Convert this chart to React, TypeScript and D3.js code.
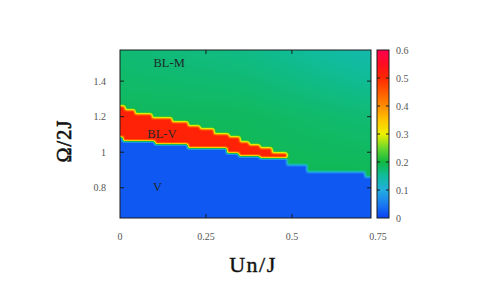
import React, { useEffect, useState } from "react";
import * as d3 from "d3";

// axis ticks
const xTicks = [0, 0.25, 0.5, 0.75];
const yTicks = [0.8, 1, 1.2, 1.4];
const cbTicks = [0, 0.1, 0.2, 0.3, 0.4, 0.5, 0.6];

// palette (value -> colour)
const paletteVals = [0, 0.05, 0.1, 0.15, 0.2, 0.25, 0.3, 0.35, 0.4, 0.45, 0.5, 0.55, 0.6];
const paletteCols = [
  "#0a40f4", "#1a7cf0", "#22aee0", "#10bc9c", "#10b840", "#6cd82c",
  "#eef000", "#ffc400", "#ff8c00", "#ff5a00", "#ff2800", "#ff0c22", "#ff004e",
];

// top of the V phase (step after x)
const blueEdgeX = [0, 0.01, 0.102, 0.199, 0.311, 0.345, 0.408, 0.486, 0.544, 0.714];
const blueEdgeY = [1.087, 1.064, 1.046, 1.021, 0.993, 0.978, 0.965, 0.928, 0.89, 0.862];

// top of the BL-V phase (step after x), ends at redEndX
const redEdgeX = [0, 0.015, 0.044, 0.092, 0.151, 0.199, 0.233, 0.272, 0.316, 0.35, 0.375, 0.408, 0.442];
const redEdgeY = [1.259, 1.237, 1.214, 1.19, 1.171, 1.147, 1.128, 1.102, 1.083, 1.059, 1.04, 1.021, 0.993];
const redEndX = 0.486;

const blueVal = 0.02;
const redVal = 0.51;

// BL-M values sampled on a coarse grid
const greenX = [0, 0.365, 0.73];
const greenY = [0.85, 1.2, 1.575];
const greenVals = [
  [0.19, 0.19, 0.19],
  [0.185, 0.184, 0.172],
  [0.172, 0.162, 0.138],
];

const phaseLabels = [
  { text: "BL-M", x: 0.143, y: 1.479 },
  { text: "BL-V", x: 0.122, y: 1.079 },
  { text: "V", x: 0.109, y: 0.784 },
];

const W = 490;
const H = 283;
const plot = { left: 120, right: 371, top: 50, bottom: 218 };
const cbar = { left: 377, right: 389 };

const xScale = d3.scaleLinear().domain([0, 0.73]).range([plot.left, plot.right]);
const yScale = d3.scaleLinear().domain([0.63, 1.575]).range([plot.bottom, plot.top]);
const cScale = d3.scaleLinear().domain([0, 0.6]).range([plot.bottom, plot.top]);
const colour = d3
  .scaleLinear<string>()
  .domain(paletteVals)
  .range(paletteCols)
  .interpolate(d3.interpolateRgb)
  .clamp(true);

const stepAt = (xs: number[], ys: number[], x: number) =>
  ys[Math.max(0, d3.bisectRight(xs, x) - 1)];

const App = () => {
  const [href, setHref] = useState("");

  useEffect(() => {
    const pw = plot.right - plot.left;
    const ph = plot.bottom - plot.top;
    const rowScales = greenVals.map((row) => d3.scaleLinear().domain(greenX).range(row));

    // value field
    let vals = new Float32Array(pw * ph);
    for (let i = 0; i < pw; i++) {
      const x = xScale.invert(plot.left + i + 0.5);
      const yb = stepAt(blueEdgeX, blueEdgeY, x);
      const yr = x < redEndX ? stepAt(redEdgeX, redEdgeY, x) : -Infinity;
      const rows = rowScales.map((s) => s(x));
      const col = d3.scaleLinear().domain(greenY).range(rows).clamp(true);
      for (let j = 0; j < ph; j++) {
        const y = yScale.invert(plot.top + j + 0.5);
        let v;
        if (y < yb) v = blueVal;
        else if (y < yr) v = redVal;
        else v = col(y);
        vals[j * pw + i] = v;
      }
    }

    // soften the cell edges a little, like pm3d interpolation
    for (let pass = 0; pass < 2; pass++) {
      const out = new Float32Array(pw * ph);
      for (let j = 0; j < ph; j++) {
        for (let i = 0; i < pw; i++) {
          let s = 0;
          let n = 0;
          for (let dj = -1; dj <= 1; dj++) {
            for (let di = -1; di <= 1; di++) {
              const ii = i + di;
              const jj = j + dj;
              if (ii < 0 || jj < 0 || ii >= pw || jj >= ph) continue;
              s += vals[jj * pw + ii];
              n++;
            }
          }
          out[j * pw + i] = s / n;
        }
      }
      vals = out;
    }

    const canvas = document.createElement("canvas");
    canvas.width = pw;
    canvas.height = ph;
    const ctx = canvas.getContext("2d")!;
    const img = ctx.createImageData(pw, ph);
    for (let k = 0; k < pw * ph; k++) {
      const c = d3.rgb(colour(vals[k]));
      img.data[k * 4] = c.r;
      img.data[k * 4 + 1] = c.g;
      img.data[k * 4 + 2] = c.b;
      img.data[k * 4 + 3] = 255;
    }
    ctx.putImageData(img, 0, 0);
    setHref(canvas.toDataURL());
  }, []);

  const tickFont = { fontFamily: "'Liberation Serif', serif", fontSize: 10, fill: "#555" };
  const tickLen = 4;

  return (
    <svg
      width={W}
      height={H}
      style={{ position: "absolute", left: 0, top: 0, background: "#fff" }}
    >
      <defs>
        <linearGradient id="cb" x1="0" y1="1" x2="0" y2="0">
          {paletteVals.map((v, i) => (
            <stop key={i} offset={v / 0.6} stopColor={paletteCols[i]} />
          ))}
        </linearGradient>
      </defs>

      {href && (
        <image
          href={href}
          x={plot.left}
          y={plot.top}
          width={plot.right - plot.left}
          height={plot.bottom - plot.top}
          preserveAspectRatio="none"
        />
      )}

      {phaseLabels.map((d) => (
        <text
          key={d.text}
          x={xScale(d.x)}
          y={yScale(d.y)}
          textAnchor="middle"
          fontFamily="'Liberation Serif', serif"
          fontSize={12.5}
          fill="#1e2a28"
        >
          {d.text}
        </text>
      ))}

      {/* plot frame and ticks */}
      <rect
        x={plot.left}
        y={plot.top}
        width={plot.right - plot.left}
        height={plot.bottom - plot.top}
        fill="none"
        stroke="#1a1a1a"
        strokeWidth={1}
      />
      {yTicks.map((t) => (
        <g key={t}>
          <line x1={plot.left} x2={plot.left + tickLen} y1={yScale(t)} y2={yScale(t)} stroke="#1a1a1a" />
          <line x1={plot.right} x2={plot.right - tickLen} y1={yScale(t)} y2={yScale(t)} stroke="#1a1a1a" />
          <text x={106} y={yScale(t)} dy="0.35em" textAnchor="end" {...tickFont}>
            {d3.format("~g")(t)}
          </text>
        </g>
      ))}
      {xTicks.map((t) => (
        <g key={t}>
          {xScale(t) > plot.left + 1 && xScale(t) < plot.right - 1 && (
            <>
              <line x1={xScale(t)} x2={xScale(t)} y1={plot.bottom} y2={plot.bottom - tickLen} stroke="#1a1a1a" />
              <line x1={xScale(t)} x2={xScale(t)} y1={plot.top} y2={plot.top + tickLen} stroke="#1a1a1a" />
            </>
          )}
          <text x={xScale(t)} y={240} textAnchor="middle" {...tickFont}>
            {d3.format("~g")(t)}
          </text>
        </g>
      ))}

      {/* colour box */}
      <rect
        x={cbar.left}
        y={plot.top}
        width={cbar.right - cbar.left}
        height={plot.bottom - plot.top}
        fill="url(#cb)"
        stroke="#1a1a1a"
        strokeWidth={1}
      />
      {cbTicks.map((t) => (
        <g key={t}>
          {t > 0 && t < 0.6 && (
            <>
              <line x1={cbar.left} x2={cbar.left + 3} y1={cScale(t)} y2={cScale(t)} stroke="#1a1a1a" />
              <line x1={cbar.right} x2={cbar.right - 3} y1={cScale(t)} y2={cScale(t)} stroke="#1a1a1a" />
            </>
          )}
          <text x={396} y={cScale(t)} dy="0.35em" textAnchor="start" {...tickFont}>
            {d3.format("~g")(t)}
          </text>
        </g>
      ))}

      {/* axis titles */}
      <text
        x={253}
        y={272}
        textAnchor="middle"
        fontFamily="'Liberation Serif', serif"
        fontSize={22}
        letterSpacing={1.5}
        fill="#111"
        stroke="#111"
        strokeWidth={0.4}
      >
        Un/J
      </text>
      <text
        transform={`translate(70.5,${(plot.top + plot.bottom) / 2 + 7}) rotate(-90)`}
        textAnchor="middle"
        fontFamily="'Liberation Serif', serif"
        fontSize={20}
        letterSpacing={1.2}
        fill="#111"
        stroke="#111"
        strokeWidth={0.6}
      >
        Ω/2J
      </text>
    </svg>
  );
};

export default App;
